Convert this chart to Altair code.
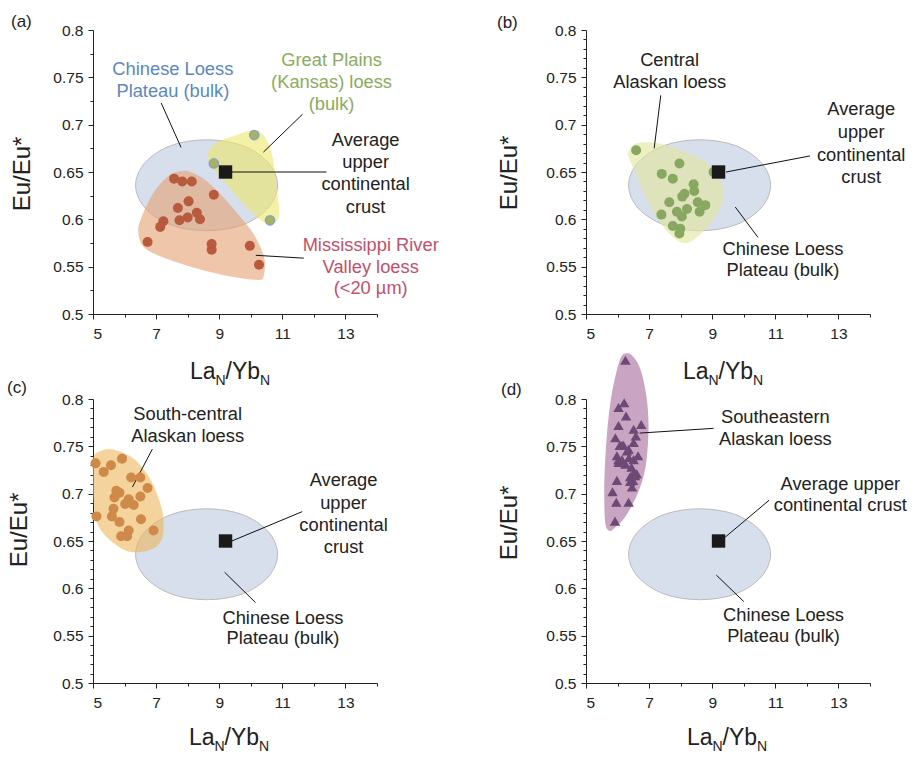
import altair as alt
import pandas as pd

FONT = "Liberation Sans"
W = H = 284
DARK = "#222222"

# ---------------- shared reference values ----------------
ucc_x = [9.2]
ucc_y = [0.65]
# Chinese Loess Plateau (bulk) field outline
clp_x = [10.85, 10.55, 9.73, 8.6, 7.48, 6.65, 6.35, 6.65, 7.48, 8.6, 9.73, 10.55]
clp_y = [0.636, 0.660, 0.678, 0.684, 0.678, 0.660, 0.636, 0.612, 0.594, 0.588, 0.594, 0.612]

x_ticks = [5, 6, 7, 8, 9, 10, 11, 12, 13, 14]
y_ticks_a = [0.5, 0.525, 0.55, 0.575, 0.6, 0.625, 0.65, 0.675, 0.7, 0.725, 0.75, 0.775, 0.8]
y_ticks_fine = [round(0.5 + 0.01 * i, 2) for i in range(31)]

# ---------------- panel (a) ----------------
miss_x = [7.57, 7.83, 8.13, 8.83, 8.03, 7.69, 8.29, 8.00, 8.39, 7.74, 7.23, 7.13, 6.73, 8.76, 8.76, 9.97, 10.26]
miss_y = [0.643, 0.640, 0.640, 0.626, 0.619, 0.612, 0.607, 0.602, 0.600, 0.599, 0.598, 0.592, 0.576, 0.574, 0.568, 0.572, 0.552]
miss_reg_x = [7.87, 7.44, 6.92, 6.50, 6.44, 6.60, 7.13, 8.29, 9.45, 10.24, 10.40, 10.45, 10.34, 10.08, 9.66, 9.03, 8.50, 8.08]
miss_reg_y = [0.651, 0.647, 0.628, 0.599, 0.585, 0.571, 0.561, 0.548, 0.539, 0.536, 0.539, 0.554, 0.568, 0.585, 0.603, 0.627, 0.643, 0.650]
gp_x = [10.11, 8.83, 10.61]
gp_y = [0.689, 0.659, 0.599]
gp_reg_x = [8.66, 8.87, 9.55, 10.08, 10.40, 10.66, 10.82, 10.90, 10.76, 10.50, 9.87, 9.03, 8.69]
gp_reg_y = [0.670, 0.680, 0.689, 0.694, 0.689, 0.670, 0.634, 0.606, 0.596, 0.595, 0.613, 0.645, 0.659]
a_text = ["Chinese Loess", "Plateau (bulk)", "Great Plains", "(Kansas) loess", "(bulk)",
          "Average", "upper", "continental", "crust",
          "Mississippi River", "Valley loess", "(<20 µm)"]
a_tx = [7.53, 7.53, 12.56, 12.56, 12.56, 13.64, 13.64, 13.64, 13.64, 13.8, 13.8, 13.8]
a_ty = [0.758, 0.735, 0.767, 0.744, 0.721, 0.683, 0.659, 0.636, 0.612, 0.572, 0.549, 0.526]
a_tc = ["#5b87bf", "#5b87bf", "#8aab60", "#8aab60", "#8aab60",
        DARK, DARK, DARK, DARK, "#c2506c", "#c2506c", "#c2506c"]
a_l_x1 = [7.16, 11.64, 9.39, 10.16]
a_l_y1 = [0.723, 0.711, 0.650, 0.562]
a_l_x2 = [7.79, 10.40, 12.40, 11.68]
a_l_y2 = [0.676, 0.671, 0.650, 0.559]

# ---------------- panel (b) ----------------
cak_x = [6.59, 7.96, 7.40, 7.75, 9.04, 8.41, 8.43, 8.12, 8.05, 7.64, 8.54, 8.78, 8.60, 8.20, 7.88, 8.04, 7.39, 7.75, 7.99, 7.96]
cak_y = [0.673, 0.659, 0.648, 0.643, 0.650, 0.637, 0.630, 0.627, 0.624, 0.618, 0.618, 0.615, 0.608, 0.611, 0.608, 0.603, 0.605, 0.593, 0.590, 0.585]
cak_reg_x = [6.35, 6.56, 7.14, 7.78, 8.73, 9.25, 9.38, 9.27, 8.94, 8.51, 8.20, 7.88, 7.46, 7.04, 6.67, 6.35]
cak_reg_y = [0.671, 0.680, 0.681, 0.676, 0.662, 0.641, 0.629, 0.613, 0.595, 0.581, 0.575, 0.578, 0.592, 0.613, 0.641, 0.666]
b_text = ["Central", "Alaskan loess", "Average", "upper", "continental", "crust",
          "Chinese Loess", "Plateau (bulk)"]
b_tx = [7.65, 7.65, 13.72, 13.72, 13.72, 13.72, 11.24, 11.24]
b_ty = [0.767, 0.744, 0.715, 0.691, 0.667, 0.644, 0.568, 0.545]
b_l_x1 = [7.37, 9.44, 9.73]
b_l_y1 = [0.731, 0.650, 0.613]
b_l_x2 = [7.16, 12.10, 10.45]
b_l_y2 = [0.675, 0.667, 0.581]

# ---------------- panel (c) ----------------
sca_x = [5.08, 5.34, 5.57, 5.92, 6.21, 6.50, 6.73, 5.74, 5.84, 5.68, 6.13, 6.50, 6.02, 6.29, 5.65, 5.11, 5.60, 5.84, 6.52, 6.92, 6.13, 5.89, 6.08]
sca_y = [0.732, 0.723, 0.730, 0.737, 0.717, 0.717, 0.706, 0.703, 0.701, 0.696, 0.694, 0.697, 0.689, 0.688, 0.684, 0.676, 0.676, 0.670, 0.673, 0.661, 0.661, 0.655, 0.655]
sca_reg_x = [5.02, 5.25, 5.55, 5.97, 6.39, 6.82, 7.13, 7.24, 7.18, 6.92, 6.39, 5.97, 5.44, 5.13, 5.02, 5.00]
sca_reg_y = [0.739, 0.745, 0.747, 0.743, 0.734, 0.715, 0.690, 0.669, 0.652, 0.642, 0.638, 0.641, 0.654, 0.669, 0.690, 0.718]
c_text = ["South-central", "Alaskan loess", "Average", "upper", "continental", "crust",
          "Chinese Loess", "Plateau (bulk)"]
c_tx = [8.0, 8.0, 12.94, 12.94, 12.94, 12.94, 11.02, 11.02]
c_ty = [0.783, 0.760, 0.713, 0.689, 0.666, 0.643, 0.568, 0.546]
c_l_x1 = [6.88, 9.40, 9.17]
c_l_y1 = [0.747, 0.650, 0.617]
c_l_x2 = [6.25, 11.63, 10.15]
c_l_y2 = [0.707, 0.681, 0.585]

# ---------------- panel (d) ----------------
sea_x = [6.25, 6.03, 6.21, 6.27, 6.03, 6.75, 6.51, 5.93, 6.58, 6.51, 6.07, 6.19, 6.30, 6.65, 5.98,
         6.14, 6.36, 6.03, 6.25, 6.44, 6.51, 6.61, 6.40, 5.98, 6.49, 6.46, 5.84, 5.96, 6.35, 5.92,
         6.14, 6.35, 6.03, 6.51, 6.40, 6.56]
sea_y = [0.841, 0.791, 0.796, 0.782, 0.772, 0.773, 0.768, 0.759, 0.761, 0.754, 0.751, 0.751, 0.745, 0.740, 0.740,
         0.736, 0.738, 0.733, 0.731, 0.728, 0.722, 0.721, 0.718, 0.714, 0.714, 0.707, 0.702, 0.691, 0.691, 0.671,
         0.751, 0.747, 0.736, 0.736, 0.713, 0.719]
sea_reg_x = [6.25, 6.46, 6.72, 6.91, 6.98, 6.95, 6.85, 6.61, 6.25, 5.88, 5.72, 5.61, 5.58, 5.59, 5.66, 5.79, 5.96, 6.11]
sea_reg_y = [0.848, 0.846, 0.832, 0.804, 0.775, 0.747, 0.722, 0.698, 0.676, 0.663, 0.661, 0.669, 0.694, 0.722, 0.761, 0.800, 0.828, 0.844]
d_text = ["Southeastern", "Alaskan loess", "Average upper", "continental crust",
          "Chinese Loess", "Plateau (bulk)"]
d_tx = [11.0, 11.0, 13.06, 13.06, 11.26, 11.26]
d_ty = [0.780, 0.757, 0.709, 0.687, 0.571, 0.549]
d_l_x1 = [6.70, 9.41, 9.13]
d_l_y1 = [0.764, 0.654, 0.614]
d_l_x2 = [9.04, 10.80, 10.00]
d_l_y2 = [0.769, 0.693, 0.586]

# ---------------- helpers ----------------
XS = alt.Scale(domain=[5, 14], nice=False, zero=False)
YS = alt.Scale(domain=[0.5, 0.8], nice=False, zero=False)
ANN = 18.3


def x_axis():
    return alt.Axis(values=x_ticks, title=None, grid=False,
                    labelExpr="datum.value % 2 == 1 ? datum.label : ''",
                    tickSize={"condition": {"test": "datum.value % 2 == 1", "value": 5}, "value": 3},
                    labelPadding=7, labelFontSize=15.5, labelFont=FONT, labelColor=DARK,
                    domainColor=DARK, tickColor=DARK)


def y_axis(vals):
    major = "abs(datum.value*20 - round(datum.value*20)) < 0.001"
    return alt.Axis(values=vals, title=None, grid=False,
                    labelExpr=major + " ? format(datum.value, '.2~f') : ''",
                    tickSize={"condition": {"test": major, "value": 5}, "value": 3},
                    labelPadding=5, labelFontSize=15.5, labelFont=FONT, labelColor=DARK,
                    domainColor=DARK, tickColor=DARK)


def xy(ch, yvals, xf="x", yf="y"):
    return ch.encode(x=alt.X(f"{xf}:Q", scale=XS, axis=x_axis()),
                     y=alt.Y(f"{yf}:Q", scale=YS, axis=y_axis(yvals)))


def shape(xs, ys, fill, op, yvals, stroke=None):
    df = pd.DataFrame({"x": xs, "y": ys, "o": list(range(len(xs)))})
    kw = dict(filled=True, interpolate="cardinal-closed", fill=fill, fillOpacity=op)
    if stroke:
        kw.update(stroke=stroke, strokeWidth=1, strokeOpacity=1)
    else:
        kw.update(strokeWidth=0)
    return xy(alt.Chart(df).mark_line(**kw), yvals).encode(order="o:Q")


def pts(xs, ys, color, yvals, size=100, shp="circle", stroke=None):
    df = pd.DataFrame({"x": xs, "y": ys})
    kw = dict(shape=shp, size=size, filled=True, fill=color, opacity=1, fillOpacity=1)
    if stroke:
        kw.update(stroke=stroke, strokeWidth=1.5)
    else:
        kw.update(strokeWidth=0)
    return xy(alt.Chart(df).mark_point(**kw), yvals)


def leaders(x1, y1, x2, y2, yvals):
    df = pd.DataFrame({"x": x1, "y": y1, "x2": x2, "y2": y2})
    return alt.Chart(df).mark_rule(color="#111111", strokeWidth=1).encode(
        x=alt.X("x:Q", scale=XS, axis=x_axis()), y=alt.Y("y:Q", scale=YS, axis=y_axis(yvals)),
        x2="x2:Q", y2="y2:Q")


def labels(t, x, y, c, yvals):
    df = pd.DataFrame({"t": t, "x": x, "y": y, "c": c})
    return xy(alt.Chart(df).mark_text(font=FONT, fontSize=ANN, align="center", baseline="middle"),
              yvals).encode(text="t:N", color=alt.Color("c:N", scale=None))


def ucc(yvals):
    df = pd.DataFrame({"x": ucc_x, "y": ucc_y})
    return xy(alt.Chart(df).mark_point(shape="square", size=180, filled=True, fill="#1a1a1a",
                                       opacity=1, strokeWidth=0), yvals)


def ptext(t, x, y, size, angle=0, align="left", baseline="middle"):
    df = pd.DataFrame({"t": [t]})
    kw = dict(font=FONT, fontSize=size, align=align, baseline=baseline, color=DARK)
    if angle:
        kw["angle"] = angle
    return alt.Chart(df).mark_text(**kw).encode(text="t:N", x=alt.value(x), y=alt.value(y))


def frame(tag, tagx, tagy, eux, euy, lax, base=349):
    return [
        ptext(tag, tagx, tagy, 17),
        ptext("Eu/Eu*", eux, euy, 24, angle=270, align="center"),
        ptext("La", lax, base, 23, baseline="alphabetic"),
        ptext("N", lax + 25.5, base + 6, 14, baseline="alphabetic"),
        ptext("/Yb", lax + 35.5, base, 23, baseline="alphabetic"),
        ptext("N", lax + 70, base + 6, 14, baseline="alphabetic"),
    ]


CLP_FILL = "#d7dfec"
CLP_STROKE = "#bbbbbb"

ya = y_ticks_a
yf = y_ticks_fine

panel_a = alt.layer(
    shape(clp_x, clp_y, CLP_FILL, 1, ya, stroke=CLP_STROKE),
    shape(miss_reg_x, miss_reg_y, "#e4a070", 0.6, ya),
    shape(gp_reg_x, gp_reg_y, "#ece66a", 0.6, ya),
    leaders(a_l_x1, a_l_y1, a_l_x2, a_l_y2, ya),
    pts(miss_x, miss_y, "#b85a3e", ya),
    pts(gp_x, gp_y, "#a9b45a", ya, size=85, stroke="#88a4c4"),
    ucc(ya),
    labels(a_text, a_tx, a_ty, a_tc, ya),
    *frame("(a)", -82, -8, -70, 144, 97),
).properties(width=W, height=H)

panel_b = alt.layer(
    shape(clp_x, clp_y, CLP_FILL, 1, yf, stroke=CLP_STROKE),
    shape(cak_reg_x, cak_reg_y, "#e3e69d", 0.6, yf),
    leaders(b_l_x1, b_l_y1, b_l_x2, b_l_y2, yf),
    pts(cak_x, cak_y, "#88a862", yf),
    ucc(yf),
    labels(b_text, b_tx, b_ty, [DARK] * len(b_text), yf),
    *frame("(b)", -89, -7, -76, 143, 97),
).properties(width=W, height=H)

panel_c = alt.layer(
    shape(clp_x, clp_y, CLP_FILL, 1, yf, stroke=CLP_STROKE),
    shape(sca_reg_x, sca_reg_y, "#edb65a", 0.6, yf),
    leaders(c_l_x1, c_l_y1, c_l_x2, c_l_y2, yf),
    pts(sca_x, sca_y, "#cf8a4a", yf),
    ucc(yf),
    labels(c_text, c_tx, c_ty, [DARK] * len(c_text), yf),
    *frame("(c)", -86, -11, -73, 131, 96, base=346),
).properties(width=W, height=H)

panel_d = alt.layer(
    shape(clp_x, clp_y, CLP_FILL, 1, yf, stroke=CLP_STROKE),
    shape(sea_reg_x, sea_reg_y, "#c9a5c3", 1, yf),
    leaders(d_l_x1, d_l_y1, d_l_x2, d_l_y2, yf),
    pts(sea_x, sea_y, "#6d4a75", yf, size=110, shp="triangle-up"),
    ucc(yf),
    labels(d_text, d_tx, d_ty, [DARK] * len(d_text), yf),
    *frame("(d)", -85, -9, -76, 124, 101, base=346),
).properties(width=W, height=H)

chart = alt.concat(panel_a, panel_b, panel_c, panel_d, columns=2,
                   spacing={"row": 85, "column": 209}, bounds="flush").configure(
    font=FONT, padding={"left": -1, "top": 5, "right": 0, "bottom": 0}
).configure_view(stroke=None).configure_axis(domainWidth=1, tickWidth=1)

chart.save("out.html", embed_options={"renderer": "svg", "actions": False})
